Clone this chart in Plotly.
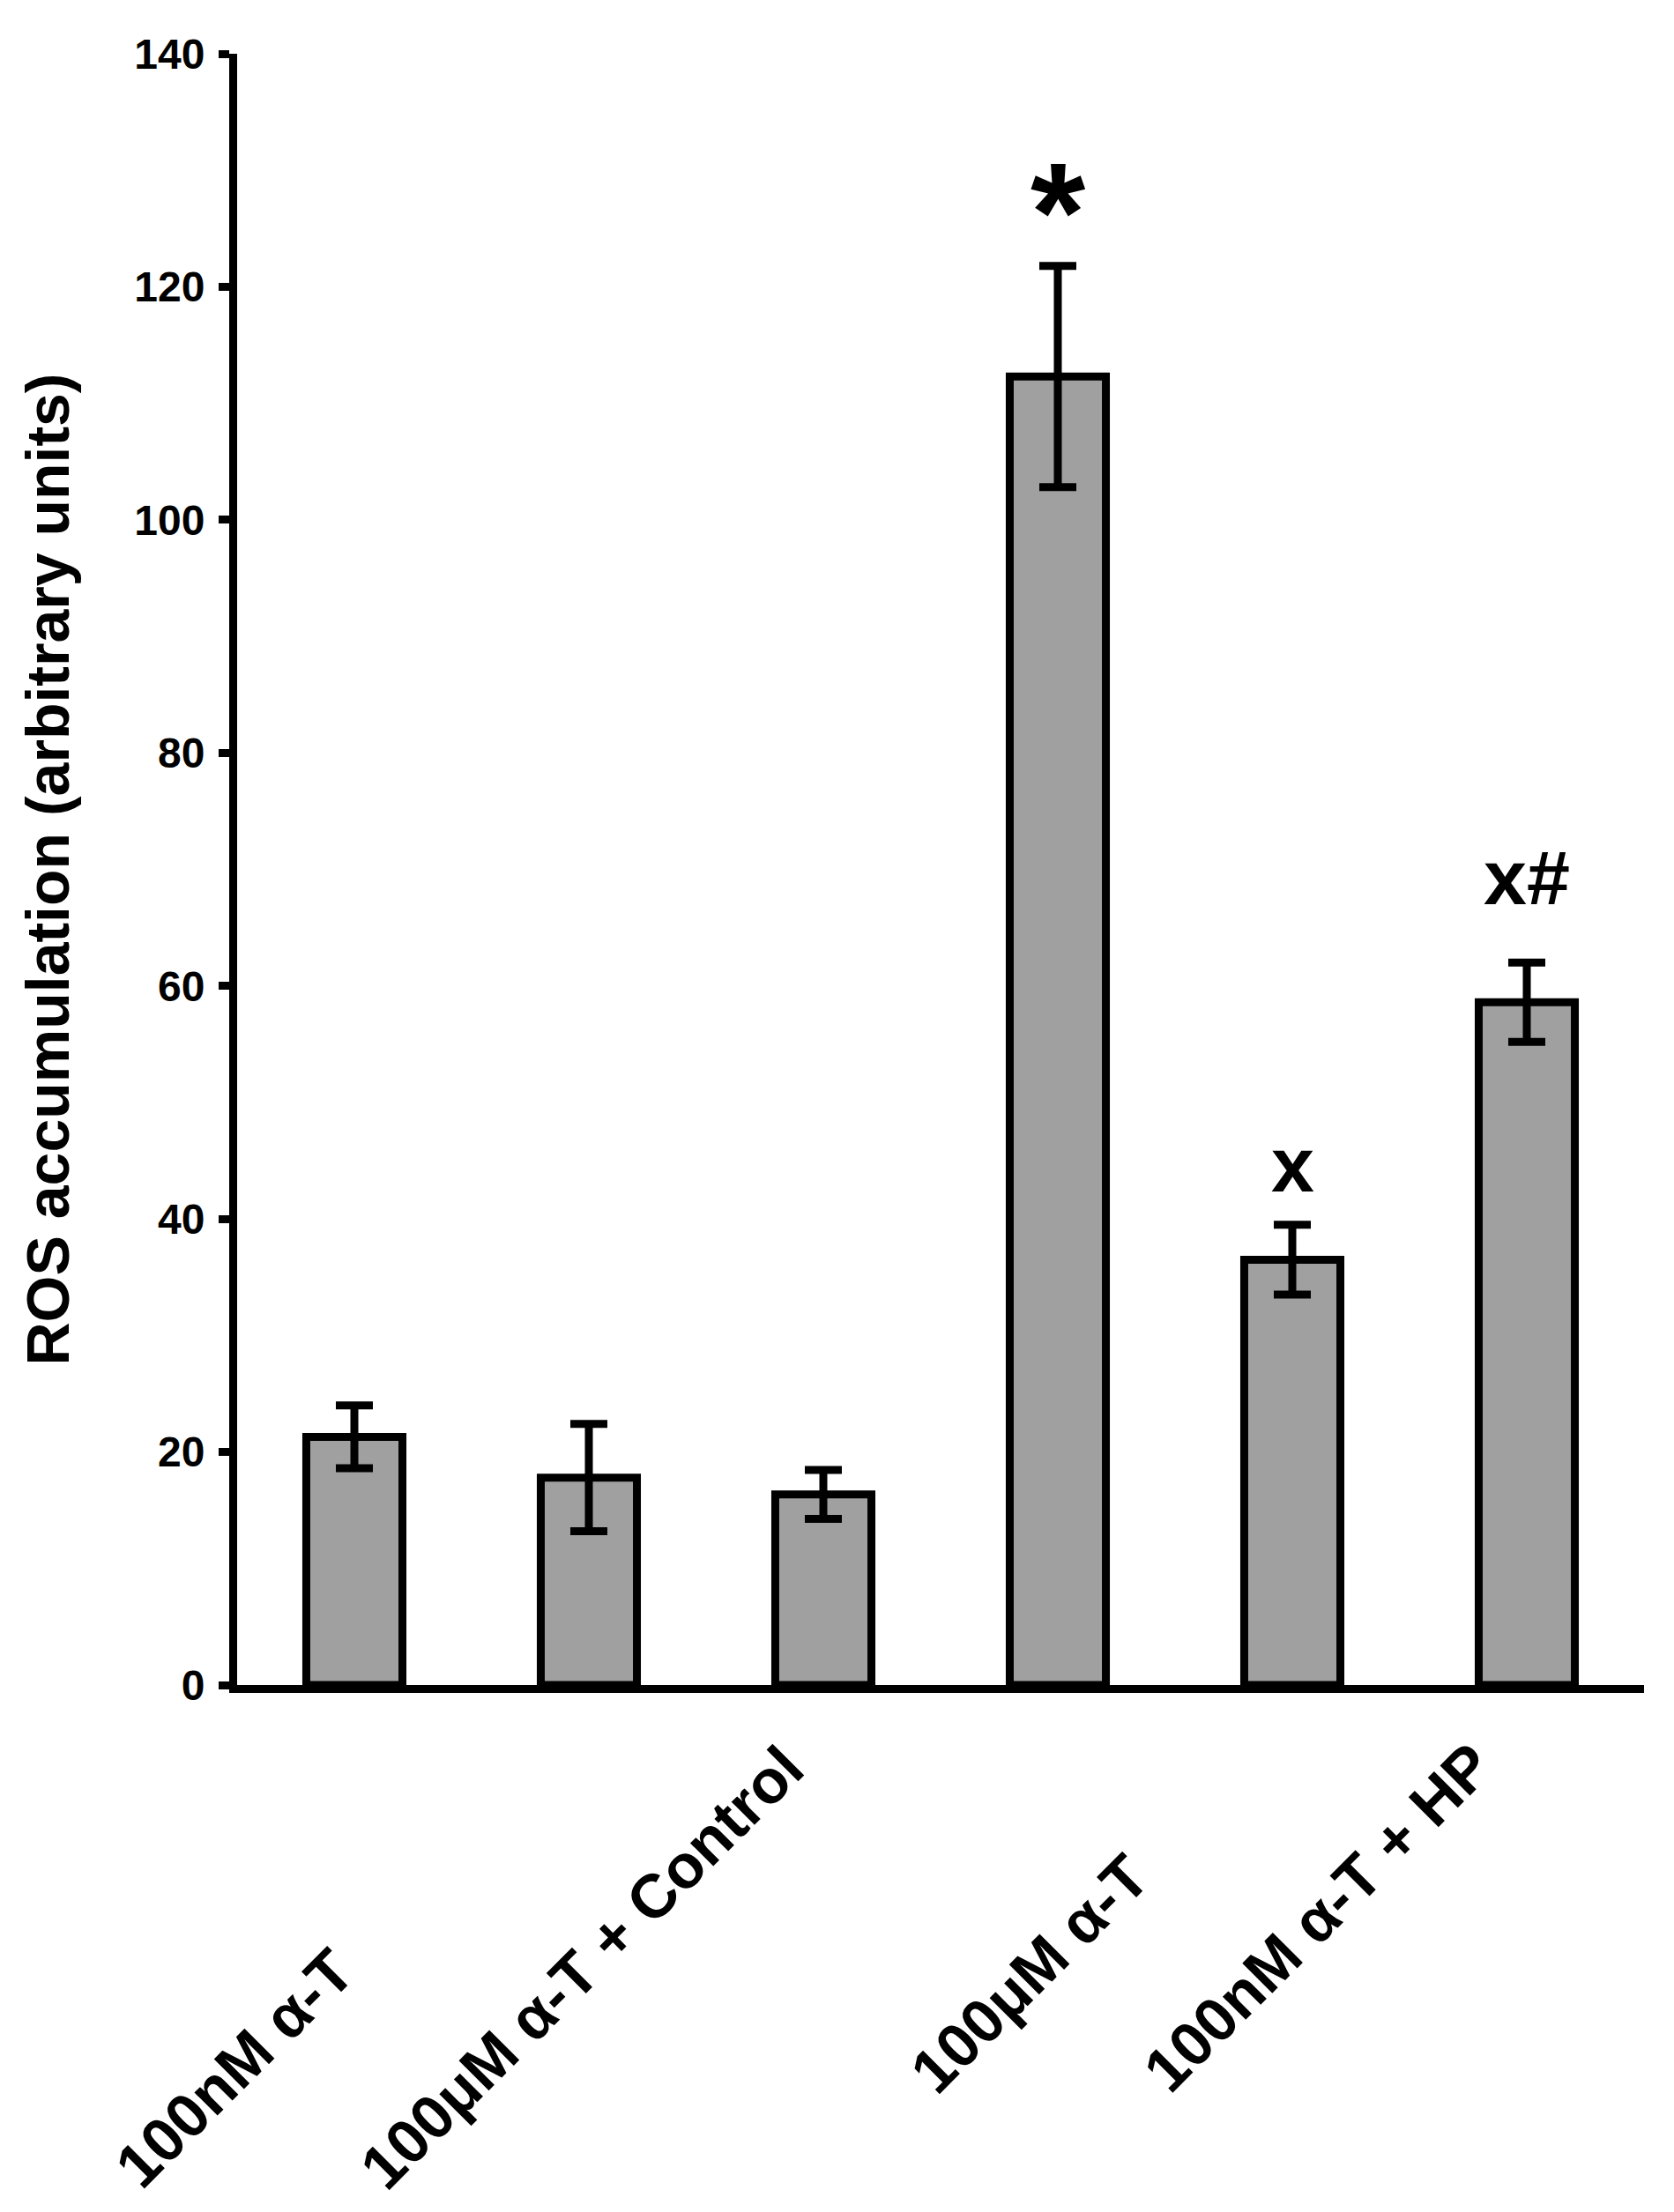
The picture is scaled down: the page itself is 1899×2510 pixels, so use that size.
import plotly.graph_objects as go

# bar values (ROS accumulation, arbitrary units)
bar_pos = [0, 1, 2, 3, 4, 5]
ros_mean = [21.3, 17.8, 16.35, 112.3, 36.5, 58.6]
ros_err = [2.7, 4.6, 2.1, 9.5, 3.0, 3.4]

# significance marks above the bars
sig_text = ["*", "x", "x#"]
sig_pos = [3, 4, 5]
sig_y = [126.4, 44.7, 69.3]
sig_size = [160, 88, 88]

# group labels under the axis (placed by hand in the original),
# position in bar units / y units below zero
group_labels = ["100nM α-T", "100μM α-T + Control", "100μM α-T", "100nM α-T + HP"]
label_x = [-0.51, 0.97, 2.88, 4.11]
label_y = [-32.9, -24.3, -24.8, -20.0]

FONT = "Liberation Sans, Arial, sans-serif"
X_RANGE = [-0.5, 5.5]
Y_RANGE = [0, 140]

fig = go.Figure()
fig.add_trace(go.Bar(
    x=bar_pos, y=ros_mean, width=0.41,
    marker=dict(color="#a0a0a0", line=dict(color="black", width=9)),
    error_y=dict(type="data", array=ros_err, color="black", thickness=9, width=21),
))

for t, x, y, s in zip(sig_text, sig_pos, sig_y, sig_size):
    fig.add_annotation(x=x, y=y, xref="x", yref="y", text=t, showarrow=False,
                       font=dict(family=FONT, size=s, color="black", weight="bold"),
                       xanchor="center", yanchor="middle")

# labels sit outside the axes, so place them in paper units
for t, x, y in zip(group_labels, label_x, label_y):
    xp = (x - X_RANGE[0]) / (X_RANGE[1] - X_RANGE[0])
    yp = (y - Y_RANGE[0]) / (Y_RANGE[1] - Y_RANGE[0])
    fig.add_annotation(x=xp, y=yp, xref="paper", yref="paper", text=t, showarrow=False,
                       textangle=-45,
                       font=dict(family=FONT, size=70, color="black", weight="bold"),
                       xanchor="center", yanchor="middle")

fig.update_layout(
    width=1899, height=2510,
    margin=dict(l=261, r=42, t=53, b=606),
    paper_bgcolor="white", plot_bgcolor="white",
    showlegend=False,
    font=dict(family=FONT, color="black"),
)
fig.update_xaxes(range=X_RANGE, showline=True, linecolor="black", linewidth=9,
                 showticklabels=False, ticks="", showgrid=False, zeroline=False)
fig.update_yaxes(range=Y_RANGE, dtick=20, showline=True, linecolor="black", linewidth=9,
                 ticks="outside", ticklen=12, tickwidth=9, tickcolor="black",
                 showgrid=False, zeroline=False, ticklabelstandoff=6,
                 tickfont=dict(family=FONT, size=48, color="black", weight="bold"),
                 title=dict(text="ROS accumulation (arbitrary units)", standoff=55,
                            font=dict(family=FONT, size=68, color="black", weight="bold")))

fig.write_html("out.html")
